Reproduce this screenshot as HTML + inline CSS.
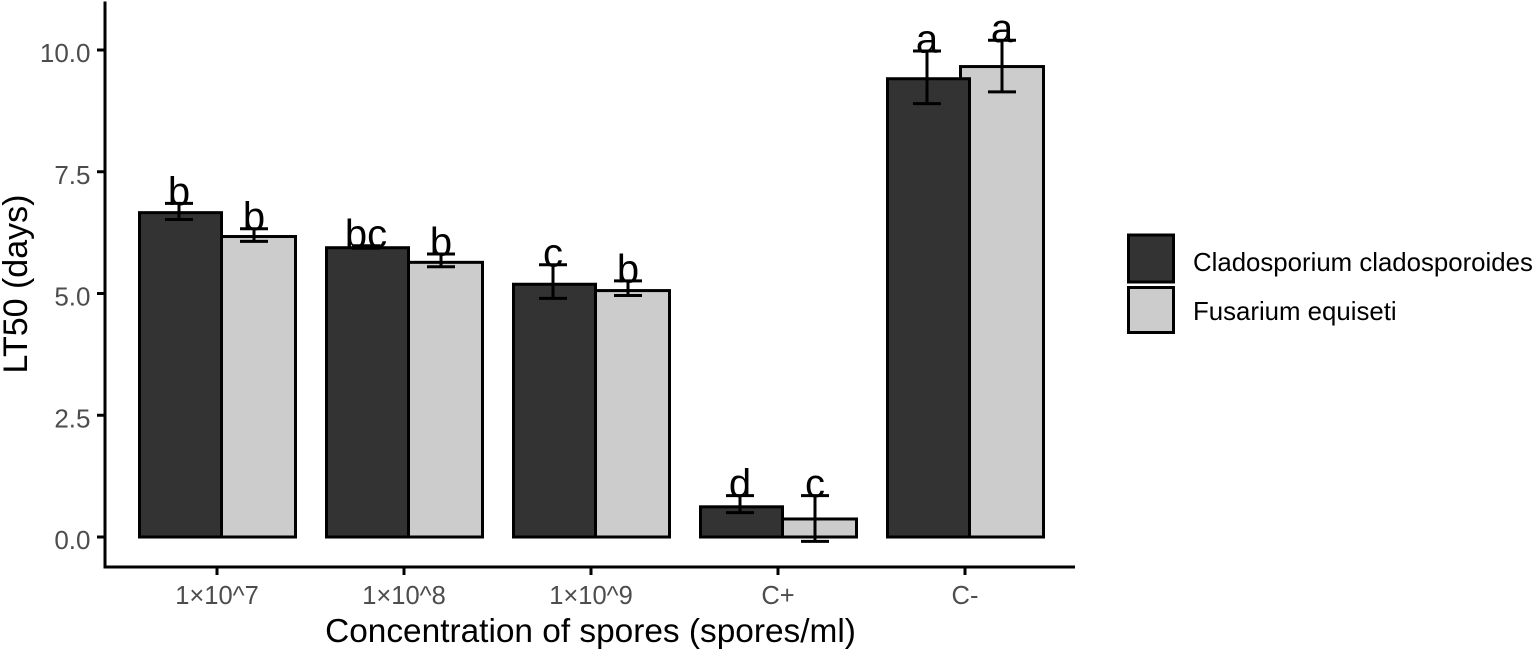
<!DOCTYPE html>
<html lang="en">
<head>
<meta charset="utf-8">
<title>LT50 by spore concentration</title>
<style>
html,body{margin:0;padding:0;background:#fff;}
svg{display:block;font-family:"Liberation Sans",Arial,sans-serif;}
</style>
</head>
<body>
<svg id="chart" width="1535" height="650" viewBox="0 0 1535 650" xmlns="http://www.w3.org/2000/svg">
  <rect x="0" y="0" width="1535" height="650" fill="#ffffff"/>
  <g id="bars"></g>
  <g id="errors"></g>
  <g id="letters"></g>
  <g id="axes"></g>
  <text x="590.5" y="642" font-size="33.4" text-anchor="middle" fill="#000">Concentration of spores (spores/ml)</text>
  <text transform="translate(27,284) rotate(-90)" font-size="34" text-anchor="middle" fill="#000">LT50 (days)</text>
  <g>
    <rect x="1128.5" y="235" width="45" height="47" fill="#333333" stroke="#000" stroke-width="3"/>
    <text x="1193" y="271" font-size="25.8" fill="#000">Cladosporium cladosporoides</text>
    <rect x="1128.5" y="287.5" width="45" height="45" fill="#cccccc" stroke="#000" stroke-width="3"/>
    <text x="1193" y="320" font-size="25.8" fill="#000">Fusarium equiseti</text>
  </g>
</svg>
<script>
const categories = ["1×10^7", "1×10^8", "1×10^9", "C+", "C-"];
const yTickValues = [0, 2.5, 5, 7.5, 10];
const yTickLabels = ["0.0", "2.5", "5.0", "7.5", "10.0"];

const darkValues = [6.66, 5.94, 5.19, 0.62, 9.41];
const darkUpper = [6.85, 5.98, 5.59, 0.85, 9.98];
const darkLower = [6.52, 5.93, 4.90, 0.50, 8.90];
const darkLetters = ["b", "bc", "c", "d", "a"];

const lightValues = [6.17, 5.64, 5.06, 0.37, 9.66];
const lightUpper = [6.33, 5.81, 5.26, 0.85, 10.20];
const lightLower = [6.07, 5.55, 4.96, -0.09, 9.14];
const lightLetters = ["b", "b", "b", "c", "a"];

const NS = "http://www.w3.org/2000/svg";
const yScale = function (v) { return 537 - 48.7 * v; };
const xScale = function (i) { return 217 + 187 * i; };
const CAP_HALF = 14;

function make(tag, parent, props) {
  const el = document.createElementNS(NS, tag);
  Object.keys(props).forEach(function (k) { el.setAttribute(k, props[k]); });
  parent.appendChild(el);
  return el;
}

const barsG = document.getElementById("bars");
const errorsG = document.getElementById("errors");
const lettersG = document.getElementById("letters");
const axesG = document.getElementById("axes");

function drawSeries(seriesName, values, upper, lower, labels, barLeftOffset, barWidth, errOffset, fill) {
  values.forEach(function (v, i) {
    const cx = xScale(i);
    const x = cx + barLeftOffset;
    const top = yScale(v);
    const bar = make("rect", barsG, {
      x: x, y: top, width: barWidth, height: Math.max(0, yScale(0) - top),
      fill: fill, stroke: "#000", "stroke-width": 3
    });
    
    

    const ex = cx + errOffset;
    const yU = yScale(upper[i]);
    const yL = yScale(lower[i]);
    const stem = make("line", errorsG, { x1: ex, x2: ex, y1: yU, y2: yL, stroke: "#000", "stroke-width": 3 });
    
    
    const capU = make("line", errorsG, { x1: ex - CAP_HALF, x2: ex + CAP_HALF, y1: yU, y2: yU, stroke: "#000", "stroke-width": 3 });
    
    
    const capL = make("line", errorsG, { x1: ex - CAP_HALF, x2: ex + CAP_HALF, y1: yL, y2: yL, stroke: "#000", "stroke-width": 3 });
    
    

    const t = make("text", lettersG, {
      x: ex, y: yU + 1.5, "font-size": 40, "text-anchor": "middle", fill: "#000"
    });
    t.textContent = labels[i];
    
    
  });
}

drawSeries("fusarium", lightValues, lightUpper, lightLower, lightLetters, -4.5, 83, 37, "#cccccc");
drawSeries("cladosporium", darkValues, darkUpper, darkLower, darkLetters, -77.5, 82, -38, "#333333");

const yAxis = make("line", axesG, { x1: 105, x2: 105, y1: 1.5, y2: 568.5, stroke: "#000", "stroke-width": 3 });


const xAxis = make("line", axesG, { x1: 103.5, x2: 1075, y1: 567, y2: 567, stroke: "#000", "stroke-width": 3 });



yTickValues.forEach(function (v, i) {
  const y = yScale(v);
  const tick = make("line", axesG, { x1: 97, x2: 104, y1: y, y2: y, stroke: "#000", "stroke-width": 3 });
  
  
  const label = make("text", axesG, { x: 90.5, y: y + 12, "font-size": 26, "text-anchor": "end", fill: "#4d4d4d" });
  label.textContent = yTickLabels[i];
  
  
});

categories.forEach(function (c, i) {
  const x = xScale(i);
  const tick = make("line", axesG, { x1: x, x2: x, y1: 568, y2: 575, stroke: "#000", "stroke-width": 3 });
  
  
  const label = make("text", axesG, { x: x, y: 604, "font-size": 25.5, "text-anchor": "middle", fill: "#4d4d4d" });
  label.textContent = c;
  
  
});
</script>
</body>
</html>
